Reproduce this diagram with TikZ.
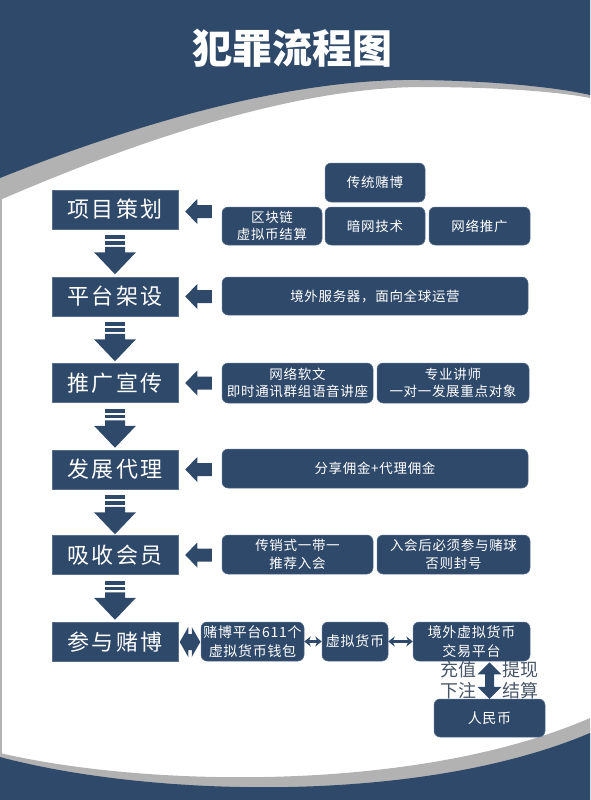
\documentclass[tikz,border=0pt]{standalone}
\usepackage{fontspec}
\setmainfont{Noto Sans CJK SC}
\newfontfamily\boxfont{Noto Sans CJK SC}[LetterSpace=5]
\newfontfamily\leftfont{Noto Sans CJK SC}[LetterSpace=10]
\usetikzlibrary{calc,arrows.meta}
\definecolor{navy}{RGB}{47,73,106}
\definecolor{band}{RGB}{178,178,178}
\definecolor{lbl}{RGB}{72,86,104}
\definecolor{edgec}{RGB}{88,110,140}
\newcommand\fatleft[2]{%
  \fill[navy] (#1) -- ($(#1)+(12,-12.5)$) -- ($(#1)+(12,-6.5)$) -- ($(#2)+(0,-6.5)$)
    -- ($(#2)+(0,6.5)$) -- ($(#1)+(12,6.5)$) -- ($(#1)+(12,12.5)$) -- cycle;}
\newcommand\fatdown[1]{%
  \fill[navy] ($(#1)+(-10,6)$) rectangle ($(#1)+(10,10)$);
  \fill[navy] ($(#1)+(-10,12)$) rectangle ($(#1)+(10,15.5)$);
  \fill[navy] ($(#1)+(-10,17.5)$) -- ($(#1)+(10,17.5)$) -- ($(#1)+(10,23)$) -- ($(#1)+(21,23)$)
    -- ($(#1)+(0,45)$) -- ($(#1)+(-21,23)$) -- ($(#1)+(-10,23)$) -- cycle;}
\tikzset{
  leftbox/.style={rectangle, fill=navy, draw=edgec, line width=0.5pt, text=white,
    minimum width=126pt, minimum height=39pt, inner sep=0pt,
    font=\leftfont\fontsize{22}{22}\selectfont},
  rbox/.style={rectangle, rounded corners=6pt, fill=navy, draw=edgec, line width=0.5pt,
    text=white, inner sep=0pt, align=center,
    font=\boxfont\fontsize{13.5}{17.5}\selectfont},
  wbox/.style={rbox, font=\boxfont\fontsize{14}{18.5}\selectfont},
  conn/.style={navy, line width=2.2pt, {Stealth[length=6.5pt,width=10pt]}-{Stealth[length=6.5pt,width=10pt]}},
  sidelbl/.style={text=lbl, inner sep=0pt, font=\fontsize{18}{18}\selectfont}
}
\begin{document}
\begin{tikzpicture}[x=1pt,y=-1pt]
\useasboundingbox (0,0) rectangle (590,800);
% left edge line
\fill[band] (0,0) rectangle (1.5,800);
% header
\fill[band] (0,0) -- (0,200) .. controls (150,135) and (300,88) .. (420,87)
  .. controls (500,87) and (560,92) .. (590,98) -- (590,0) -- cycle;
\fill[navy] (0,0) -- (0,178) .. controls (150,118) and (300,78) .. (420,80)
  .. controls (500,81) and (560,88) .. (590,95) -- (590,0) -- cycle;
% footer
\fill[band] (0,753) .. controls (150,788) and (420,792) .. (590,718) -- (590,800) -- (0,800) -- cycle;
\fill[navy] (0,757) .. controls (150,797) and (420,805) .. (590,733) -- (590,800) -- (0,800) -- cycle;

\node[text=white, inner sep=0pt, font=\fontsize{40}{40}\selectfont\bfseries] (title) at (292,48) {犯罪流程图};

% left column
\node[leftbox] (L1) at (115,209.5) {项目策划};
\node[leftbox] (L2) at (115,296.5) {平台架设};
\node[leftbox] (L3) at (115,383) {推广宣传};
\node[leftbox] (L4) at (115,469.5) {发展代理};
\node[leftbox] (L5) at (115,555) {吸收会员};
\node[leftbox] (L6) at (115,642) {参与赌博};

% right boxes
\node[rbox, minimum width=100pt, minimum height=39pt] (R1t) at (375,182.5) {传统赌博};
\node[rbox, minimum width=100pt, minimum height=38pt] (R1a) at (272,226) {区块链\\虚拟币结算};
\node[rbox, minimum width=100pt, minimum height=38pt] (R1b) at (375,226) {暗网技术};
\node[rbox, minimum width=101pt, minimum height=38pt] (R1c) at (479.5,226) {网络推广};
\node[rbox, minimum width=306pt, minimum height=38pt] (R2) at (375,296) {境外服务器，面向全球运营};
\node[rbox, minimum width=151pt, minimum height=40pt] (R3a) at (297.5,383) {网络软文\\即时通讯群组语音讲座};
\node[rbox, minimum width=152pt, minimum height=40pt] (R3b) at (453,383) {专业讲师\\一对一发展重点对象};
\node[rbox, minimum width=306pt, minimum height=39pt] (R4) at (375,468.5) {分享佣金+代理佣金};
\node[rbox, minimum width=151pt, minimum height=39pt] (R5a) at (297.5,554.5) {传销式一带一\\推荐入会};
\node[rbox, minimum width=153pt, minimum height=39pt] (R5b) at (453.5,554.5) {入会后必须参与赌球\\否则封号};
\node[wbox, minimum width=103pt, minimum height=39pt] (W1) at (252.5,641.5) {赌博平台611个\\虚拟货币钱包};
\node[wbox, minimum width=66pt, minimum height=39pt] (W2) at (355,641.5) {虚拟货币};
\node[wbox, minimum width=117pt, minimum height=39pt] (W3) at (471.5,641.5) {境外虚拟货币\\交易平台};
\node[wbox, minimum width=111pt, minimum height=38pt] (RMB) at (489.5,718) {人民币};

% left-pointing fat arrows
\coordinate (a1t) at ($(L1.east)+(7,2)$);
\coordinate (a1e) at ($(L1.east -| R1a.west)+(-10,2)$);
\fatleft{a1t}{a1e}
\coordinate (a2t) at ($(L2.east)+(7,0)$);
\coordinate (a2e) at ($(L2.east -| R2.west)+(-10,0)$);
\fatleft{a2t}{a2e}
\coordinate (a3t) at ($(L3.east)+(7,0)$);
\coordinate (a3e) at ($(L3.east -| R3a.west)+(-10,0)$);
\fatleft{a3t}{a3e}
\coordinate (a4t) at ($(L4.east)+(7,0)$);
\coordinate (a4e) at ($(L4.east -| R4.west)+(-10,0)$);
\fatleft{a4t}{a4e}
\coordinate (a5t) at ($(L5.east)+(7,0)$);
\coordinate (a5e) at ($(L5.east -| R5a.west)+(-10,0)$);
\fatleft{a5t}{a5e}

% down arrows
\fatdown{L1.south}
\fatdown{L2.south}
\fatdown{L3.south}
\fatdown{L4.south}
\fatdown{L5.south}

% double arrow between L6 and W1
\coordinate (d0) at ($(L6.east)+(1.5,0)$);
\coordinate (d1) at ($(W1.west |- L6.east)+(-0.5,0)$);
\fill[navy] (d0) -- ($(d0)+(8.5,-15)$) -- ($(d0)+(8.5,-8)$) -- ($(d1)+(-8.5,-8)$) -- ($(d1)+(-8.5,-15)$)
  -- (d1) -- ($(d1)+(-8.5,15)$) -- ($(d1)+(-8.5,8)$) -- ($(d0)+(8.5,8)$) -- ($(d0)+(8.5,15)$) -- cycle;

% small connectors
\draw[conn] (W1.east) -- (W2.west);
\draw[conn] (W2.east) -- (W3.west);

% vertical fat double arrow
\coordinate (v0) at (RMB.north |- W3.south);
\coordinate (v1) at (RMB.north);
\fill[navy] ($(v0)+(0,1)$) -- ($(v0)+(12,13)$) -- ($(v0)+(4.5,13)$) -- ($(v1)+(4.5,-12)$) -- ($(v1)+(12,-12)$)
  -- (v1) -- ($(v1)+(-12,-12)$) -- ($(v1)+(-4.5,-12)$) -- ($(v0)+(-4.5,13)$) -- ($(v0)+(-12,13)$) -- cycle;

\node[sidelbl] (c1) at (458,670) {充值};
\node[sidelbl] (c2) at (458,690.5) {下注};
\node[sidelbl] (c3) at (520.5,670) {提现};
\node[sidelbl] (c4) at (520.5,690.5) {结算};
\end{tikzpicture}
\end{document}
